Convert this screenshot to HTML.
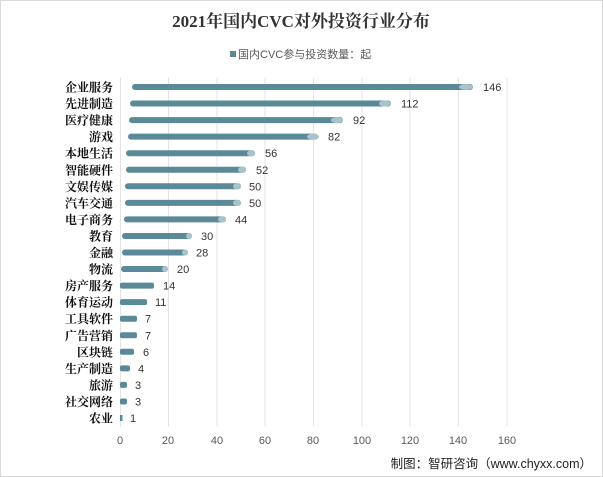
<!DOCTYPE html>
<html><head><meta charset="utf-8"><style>
html,body{margin:0;padding:0;background:#fff;}
svg{display:block;font-family:"Liberation Sans","Noto Sans CJK SC",sans-serif;}
.b{fill:#5a8a98}.e{fill:#a9c3cb}.v{font-size:11px;fill:#333}
.l{font-size:12px;font-weight:bold;font-family:"Noto Serif CJK SC",serif;fill:#111;text-anchor:end}
</style></head><body>
<svg width="603" height="477" viewBox="0 0 603 477">
<rect x="0.5" y="0.5" width="602" height="476" fill="#fff" stroke="#d9d9d9"/>
<text x="301" y="27" text-anchor="middle" font-size="17" font-weight="bold" font-family="Liberation Serif,Noto Serif CJK SC,serif" fill="#333">2021年国内CVC对外投资行业分布</text>
<rect x="230" y="51" width="6" height="6" fill="#5a8a98"/>
<text x="238" y="58" font-size="11" fill="#595959">国内CVC参与投资数量：起</text>
<g stroke="#e3e3e3" stroke-width="1">
<line x1="120.5" y1="78" x2="120.5" y2="426"/><line x1="168.5" y1="78" x2="168.5" y2="426"/><line x1="217" y1="78" x2="217" y2="426"/><line x1="265" y1="78" x2="265" y2="426"/><line x1="313.5" y1="78" x2="313.5" y2="426"/><line x1="362" y1="78" x2="362" y2="426"/><line x1="410" y1="78" x2="410" y2="426"/><line x1="458.5" y1="78" x2="458.5" y2="426"/><line x1="507" y1="78" x2="507" y2="426"/>
</g>
<g font-size="11" fill="#595959" text-anchor="middle">
<text x="120" y="444">0</text><text x="168" y="444">20</text><text x="217" y="444">40</text><text x="265" y="444">60</text><text x="313" y="444">80</text><text x="362" y="444">100</text><text x="410" y="444">120</text><text x="458" y="444">140</text><text x="507" y="444">160</text>
</g>

<g transform="translate(0,87)"><rect class="b" x="132" y="-3" width="341" height="6" rx="3"/><ellipse class="e" cx="466" cy="0" rx="7" ry="3"/><text class="v" x="483" y="4">146</text><text class="l" x="113" y="4.5">企业服务</text></g>
<g transform="translate(0,103.55)"><rect class="b" x="130" y="-3" width="261" height="6" rx="3"/><ellipse class="e" cx="385" cy="0" rx="6" ry="3"/><text class="v" x="401" y="4">112</text><text class="l" x="113" y="4.5">先进制造</text></g>
<g transform="translate(0,120.1)"><rect class="b" x="129" y="-3" width="214" height="6" rx="3"/><ellipse class="e" cx="337" cy="0" rx="6" ry="3"/><text class="v" x="353" y="4">92</text><text class="l" x="113" y="4.5">医疗健康</text></g>
<g transform="translate(0,136.65)"><rect class="b" x="128" y="-3" width="190" height="6" rx="3"/><ellipse class="e" cx="313" cy="0" rx="6" ry="3"/><text class="v" x="328" y="4">82</text><text class="l" x="113" y="4.5">游戏</text></g>
<g transform="translate(0,153.2)"><rect class="b" x="126" y="-3" width="129" height="6" rx="3"/><ellipse class="e" cx="251" cy="0" rx="4" ry="3"/><text class="v" x="265" y="4">56</text><text class="l" x="113" y="4.5">本地生活</text></g>
<g transform="translate(0,169.75)"><rect class="b" x="126" y="-3" width="120" height="6" rx="3"/><ellipse class="e" cx="242" cy="0" rx="4" ry="3"/><text class="v" x="256" y="4">52</text><text class="l" x="113" y="4.5">智能硬件</text></g>
<g transform="translate(0,186.3)"><rect class="b" x="125" y="-3" width="116" height="6" rx="3"/><ellipse class="e" cx="237" cy="0" rx="4" ry="3"/><text class="v" x="249" y="4">50</text><text class="l" x="113" y="4.5">文娱传媒</text></g>
<g transform="translate(0,202.85)"><rect class="b" x="125" y="-3" width="116" height="6" rx="3"/><ellipse class="e" cx="237" cy="0" rx="4" ry="3"/><text class="v" x="249" y="4">50</text><text class="l" x="113" y="4.5">汽车交通</text></g>
<g transform="translate(0,219.4)"><rect class="b" x="124" y="-3" width="102" height="6" rx="3"/><ellipse class="e" cx="222" cy="0" rx="4" ry="3"/><text class="v" x="235" y="4">44</text><text class="l" x="113" y="4.5">电子商务</text></g>
<g transform="translate(0,235.95)"><rect class="b" x="122" y="-3" width="70" height="6" rx="3"/><ellipse class="e" cx="189" cy="0" rx="3" ry="3"/><text class="v" x="201" y="4">30</text><text class="l" x="113" y="4.5">教育</text></g>
<g transform="translate(0,252.5)"><rect class="b" x="122" y="-3" width="66" height="6" rx="3"/><ellipse class="e" cx="185" cy="0" rx="3" ry="3"/><text class="v" x="196" y="4">28</text><text class="l" x="113" y="4.5">金融</text></g>
<g transform="translate(0,269.05)"><rect class="b" x="121" y="-3" width="47" height="6" rx="3"/><ellipse class="e" cx="165" cy="0" rx="3" ry="3"/><text class="v" x="177" y="4">20</text><text class="l" x="113" y="4.5">物流</text></g>
<g transform="translate(0,285.6)"><rect class="b" x="120" y="-3" width="34" height="6" rx="2"/><text class="v" x="163" y="4">14</text><text class="l" x="113" y="4.5">房产服务</text></g>
<g transform="translate(0,302.15)"><rect class="b" x="120" y="-3" width="27" height="6" rx="2"/><text class="v" x="155" y="4">11</text><text class="l" x="113" y="4.5">体育运动</text></g>
<g transform="translate(0,318.7)"><rect class="b" x="120" y="-3" width="17" height="6" rx="2"/><text class="v" x="145" y="4">7</text><text class="l" x="113" y="4.5">工具软件</text></g>
<g transform="translate(0,335.25)"><rect class="b" x="120" y="-3" width="17" height="6" rx="2"/><text class="v" x="145" y="4">7</text><text class="l" x="113" y="4.5">广告营销</text></g>
<g transform="translate(0,351.8)"><rect class="b" x="120" y="-3" width="14" height="6" rx="2"/><text class="v" x="143" y="4">6</text><text class="l" x="113" y="4.5">区块链</text></g>
<g transform="translate(0,368.35)"><rect class="b" x="120" y="-3" width="10" height="6" rx="2"/><text class="v" x="138" y="4">4</text><text class="l" x="113" y="4.5">生产制造</text></g>
<g transform="translate(0,384.9)"><rect class="b" x="120" y="-3" width="7" height="6" rx="2"/><text class="v" x="135" y="4">3</text><text class="l" x="113" y="4.5">旅游</text></g>
<g transform="translate(0,401.45)"><rect class="b" x="120" y="-3" width="7" height="6" rx="2"/><text class="v" x="135" y="4">3</text><text class="l" x="113" y="4.5">社交网络</text></g>
<g transform="translate(0,418)"><rect class="b" x="120" y="-3" width="2.5" height="6"/><text class="v" x="130" y="4">1</text><text class="l" x="113" y="4.5">农业</text></g>

<text x="592" y="468" text-anchor="end" font-size="12.5" fill="#222">制图：智研咨询（www.chyxx.com）</text>
</svg>
</body></html>
